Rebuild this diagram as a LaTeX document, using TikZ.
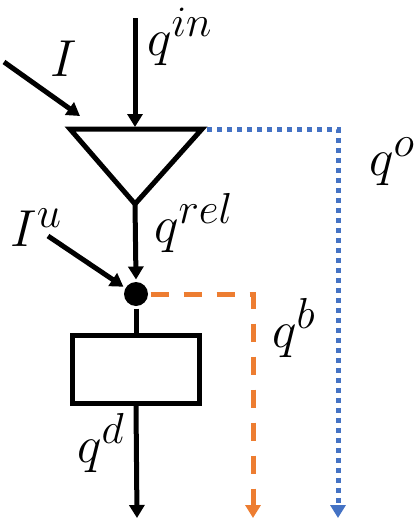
\documentclass[tikz,border=0pt]{standalone}
\usetikzlibrary{arrows.meta}
\definecolor{qblue}{HTML}{4472C4}
\definecolor{qorange}{HTML}{ED7D31}
\begin{document}
\begin{tikzpicture}[x=1pt,y=-1pt, line width=5pt,
  flow/.style={-{Triangle[length=13pt,width=15pt]}},
  lbl/.style={inner sep=0pt, anchor=base west, font=\Huge, scale=2.09}]
\useasboundingbox (0,0) rectangle (415,522);
% coordinates
\coordinate (inTop) at (135,18);
\coordinate (tl) at (70,129);
\coordinate (tr) at (202,129);
\coordinate (apex) at (135,204);
\coordinate (inTip) at (135,127);
\coordinate (iStart) at (4,62);
\coordinate (iTip) at (80,116);
\coordinate (iuStart) at (48,236);
\coordinate (oCorner) at (338,129);
\coordinate (oBot) at (338,518);
\coordinate (bCorner) at (253,294);
\coordinate (bBot) at (253,518);
\coordinate (dBot) at (137,518);
% shapes
\draw[line join=miter] (tl) -- (tr) -- (apex) -- cycle;
\node[circle, fill, inner sep=0pt, minimum size=24pt] (dot) at (136,294) {};
\node[draw, inner sep=0pt, minimum width=127pt, minimum height=68pt] (box) at (136,369.5) {};
% connectors
\draw[flow] (inTop) -- (inTip);
\draw[flow] (iStart) -- (iTip);
\draw[flow] (apex) -- (dot.north);
\draw[flow] (iuStart) -- (dot.150);
\draw (dot.south) -- (box.north);
\draw[flow] (box.south) -- (dBot);
\draw[qorange, dash pattern=on 18pt off 15pt, flow] (dot.east) -- (bCorner) -- (bBot);
\draw[qblue, dash pattern=on 5pt off 5pt, flow] (tr) ++(5,0) -- (oCorner) -- (oBot);
% labels
\node[lbl] (lin) at (142,55) {$q^{in}$};
\node[lbl] (lI) at (45,76) {$I$};
\node[lbl] (lo) at (364,175) {$q^{o}$};
\node[lbl] (lrel) at (149,242) {$q^{rel}$};
\node[lbl] (lIu) at (5,246) {$I^{u}$};
\node[lbl] (lb) at (267,347) {$q^{b}$};
\node[lbl] (ld) at (72,462) {$q^{d}$};
\end{tikzpicture}
\end{document}
